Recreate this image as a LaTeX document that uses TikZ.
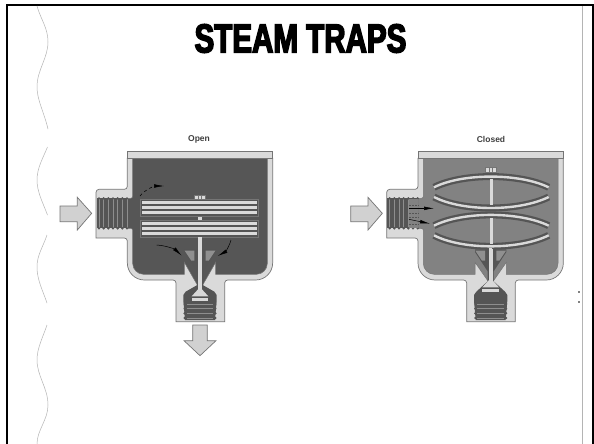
\documentclass[tikz,border=0pt]{standalone}
\usepackage{fontspec}
\usepackage{xcolor}
\usepackage{tikz}
\usetikzlibrary{arrows.meta}
\setmainfont{Liberation Sans}
\newfontfamily\titlefont[FakeStretch=0.73,FakeBold=3.5]{Liberation Sans Bold}
\definecolor{wallfill}{HTML}{DADADA}
\definecolor{wallline}{HTML}{757575}
\definecolor{darkfill}{HTML}{555555}
\definecolor{openfill}{HTML}{565656}
\definecolor{closedfill}{HTML}{828282}
\definecolor{threadline}{HTML}{8E8E8E}
\definecolor{guidefill}{HTML}{909090}
\definecolor{labelgray}{HTML}{404040}
\definecolor{waveline}{HTML}{B4B4B4}
\tikzset{
  every pic/.style={scale=1/3},
  wall/.style={draw=wallline, line width=.7pt, fill=wallfill},
  chamber/.style={draw=wallline, line width=.5pt, fill=#1},
  flowarrow/.style={draw=wallline, line width=.7pt, fill=wallfill!90!gray},
  steamarrow/.style={-{Latex[length=10pt,width=3.6pt]}, draw=black, line width=.5pt},
  lensband/.style={draw=darkfill, line width=7pt},
  lensstripe/.style={draw=wallfill, line width=2.4pt},
  stacked/.style={draw=wallline, line width=.7pt, fill=darkfill},
  stripe/.style={fill=wallfill},
  traplabel/.style={font=\bfseries\fontsize{8.5}{10}\selectfont, text=labelgray},
  wave/.style={draw=waveline, line width=.5pt},
  pics/trapbody/.style 2 args={code={
    % inlet arrow
    \draw[flowarrow] (30,228) -- (82,228) -- (82,202) -- (125,250) -- (82,300) -- (82,275) -- (30,275) -- cycle;
    % body
    \draw[wall] (232,85) [rounded corners=3pt] -- (232,178) -- (138,178) [sharp corners] -- (138,324) [rounded corners=3pt] -- (232,324) [rounded corners=17pt] -- (232,450) [rounded corners=3pt] -- (378,450) [sharp corners] -- (378,575) -- (524,575) [rounded corners=3pt] -- (524,450) [rounded corners=17pt] -- (668,450) [sharp corners] -- (668,85) -- cycle;
    % chamber
    \draw[chamber=#1] (248,85) [rounded corners=2pt] -- (248,205) [sharp corners] -- (232,205) -- (232,295) [rounded corners=2pt] -- (248,295) [rounded corners=11pt] -- (248,433) [sharp corners] -- (403,433) -- (403,397) -- (442,#2) -- (458,#2) -- (497,397) -- (497,433) [rounded corners=11pt] -- (652,433) [sharp corners] -- (652,85) -- cycle;
    % inlet thread
    \fill[darkfill] (140,205) rectangle (232,295);
    \foreach \tx in {147,161,...,231} {
      \draw[threadline, line width=.8pt] (\tx,207) -- (\tx,293);
      \fill[darkfill] (\tx,205) circle[radius=4];
      \fill[darkfill] (\tx,295) circle[radius=4];
    }
    % outlet cavity and thread
    \fill[darkfill] (442,#2) -- (407,485) -- (400,495) -- (400,512) -- (405,570) -- (495,570) -- (500,512) -- (500,495) -- (493,485) -- (458,#2) -- cycle;
    \foreach \ty in {522,536,...,564} {
      \draw[threadline, line width=.8pt] (410,\ty) -- (490,\ty);
      \fill[darkfill] (404,\ty) circle[radius=4];
      \fill[darkfill] (496,\ty) circle[radius=4];
    }
    % cap
    \draw[wall] (232,63) rectangle (668,85);
    % guide
    \fill[darkfill] (403,358) -- (497,358) -- (497,366) -- (459,424) -- (459,#2) -- (441,#2) -- (441,424) -- (403,366) -- cycle;
    \fill[guidefill] (404,362) -- (433,362) -- (433,392) -- (424,392) -- cycle;
    \fill[guidefill] (496,362) -- (467,362) -- (467,392) -- (476,392) -- cycle;
  }},
  pics/trapvalve/.style 2 args={code={
    % stem and head
    \fill[wallfill] (445,#1) rectangle (455,#2+5);
    \fill[wallfill] (425,#2+22) -- (445,#2) -- (455,#2) -- (475,#2+22) -- cycle;
    \fill[wallfill] (425,#2+27) rectangle (475,#2+35);
  }},
  pics/boltcap/.style={code={
    \draw[wall, line width=.5pt] (433,#1) rectangle (467,#1+14);
    \fill[wallline] (444,#1+2) rectangle (447,#1+12);
    \fill[wallline] (453,#1+2) rectangle (456,#1+12);
  }},
  pics/lens/.style={code={
    \draw[lensband] (280,#1+172) .. controls (365,#1+129) and (535,#1+129) .. (624,#1+172);
    \draw[lensstripe] (280,#1+172) .. controls (365,#1+129) and (535,#1+129) .. (624,#1+172);
    \draw[lensband] (280,#1+201) .. controls (365,#1+245) and (535,#1+245) .. (624,#1+201);
    \draw[lensstripe] (280,#1+201) .. controls (365,#1+245) and (535,#1+245) .. (624,#1+201);
    \fill[wallfill] (447,#1+148) rectangle (457,#1+226);
  }}
}
\begin{document}
\begin{tikzpicture}[x=1pt, y=-1pt]
  \useasboundingbox (0,0) rectangle (594,444);
  \fill[white] (0,0) rectangle (594,444);

  % slide frame
  \draw[black, line width=2pt] (6.5,444) -- (6.5,5) -- (593,5) -- (593,444);
  \draw[waveline, line width=.8pt] (582,6) -- (582,444);
  \fill[black] (579,292) circle[radius=.8];
  \fill[black] (579,302) circle[radius=.8];

  % wavy edge
  \draw[wave] (37,6) .. controls (41,20) and (48,28) .. (48,42) .. controls (48,58) and (37,70) .. (37,87) .. controls (37,100) and (44,112) .. (48,129);
  \draw[wave] (47.5,147) .. controls (43,158) and (37,168) .. (37,180) .. controls (37,192) and (43,203) .. (47.5,215);
  \draw[wave] (47,235) .. controls (43,247) and (37,255) .. (37,267) .. controls (37,280) and (43,291) .. (47,303);
  \draw[wave] (47,325) .. controls (43,337) and (37,348) .. (37,360) .. controls (37,376) and (48,388) .. (48,405) .. controls (48,420) and (37,430) .. (37,444);

  \node[font=\titlefont\fontsize{40.5}{44}\selectfont, inner sep=0pt] (title) at (300.5,38.5) {STEAM TRAPS};
  \node[traplabel, inner sep=0pt] (openlabel) at (199,139) {Open};
  \node[traplabel, inner sep=0pt] (closedlabel) at (491,139) {Closed};

  % open trap
  \begin{scope}[shift={(50,130)}, scale=1/3]
    \pic {trapbody={openfill}{465}};
    \fill[wallfill] (445,322) rectangle (455,480);
    \foreach \sy in {208,272} {
      \draw[stacked] (272,\sy) rectangle (625,\sy+50);
      \foreach \dy in {5,20,35} {
        \fill[stripe] (275,\sy+\dy) rectangle (622,\sy+\dy+8);
      }
    }
    \fill[wallfill] (445,260) rectangle (455,270);
    \pic {boltcap=195};
    \pic {trapvalve={322}{477}};
    \draw[flowarrow] (428,585) -- (472,585) -- (472,632) -- (498,632) -- (450,677) -- (402,632) -- (428,632) -- cycle;
    \draw[steamarrow, dashed] (270,198) .. controls (285,178) and (315,168) .. (342,168);
    \draw[steamarrow] (320,345) .. controls (350,347) and (375,358) .. (395,377);
    \draw[steamarrow] (543,330) .. controls (537,352) and (525,366) .. (503,378);
  \end{scope}

  % closed trap
  \begin{scope}[shift={(340.67,130)}, scale=1/3]
    \pic {trapbody={closedfill}{453}};
    \fill[closedfill] (205,207) rectangle (232,293);
    \foreach \ly in {0,115} {
      \pic {lens=\ly};
    }
    \fill[wallfill] (447,358) rectangle (457,455);
    \pic {boltcap=113};
    \pic {trapvalve={355}{450}};
    \foreach \dy in {225,250,262,283} {
      \draw[darkfill, line width=.8pt, dash pattern=on 2pt off 1pt] (205,\dy) -- (236,\dy);
    }
    \draw[steamarrow] (205,235) -- (280,235);
    \draw[steamarrow] (205,268) -- (268,281);
  \end{scope}
\end{tikzpicture}
\end{document}
